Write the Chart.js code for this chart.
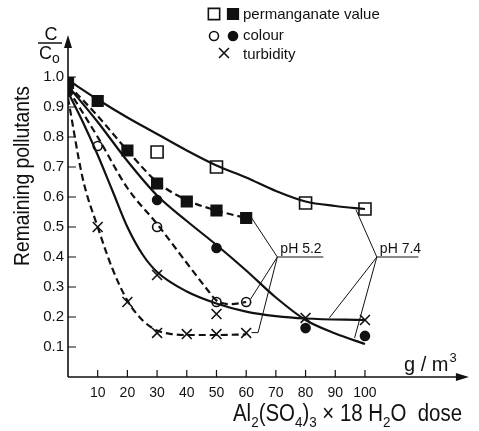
<!DOCTYPE html>
<html>
<head>
<meta charset="utf-8">
<script src="https://cdn.jsdelivr.net/npm/chart.js@4.4.1/dist/chart.umd.min.js"></script>
<style>
  html, body { margin: 0; padding: 0; background: #fff; }
</style>
</head>
<body>
<canvas id="coagChart" width="479" height="431"></canvas>
<script>
// axis ticks
const xTicks = [10, 20, 30, 40, 50, 60, 70, 80, 90, 100];
const yTicks = [0.1, 0.2, 0.3, 0.4, 0.5, 0.6, 0.7, 0.8, 0.9, 1.0];

// measured points (dose g/m3, C/Co)
const permHighX = [30, 50, 80, 100];
const permHighY = [0.75, 0.70, 0.58, 0.56];
const permLowX = [0, 10, 20, 30, 40, 50, 60];
const permLowY = [0.98, 0.92, 0.755, 0.645, 0.585, 0.555, 0.53];
const colourLowX = [10, 30, 50, 60];
const colourLowY = [0.77, 0.50, 0.25, 0.25];
const colourHighX = [0, 30, 50, 80, 100];
const colourHighY = [0.95, 0.59, 0.43, 0.163, 0.137];
const turbLowX = [10, 20, 30, 40, 50, 60];
const turbLowY = [0.50, 0.25, 0.147, 0.143, 0.143, 0.147];
const turbHighX = [30, 50, 80, 100];
const turbHighY = [0.34, 0.21, 0.197, 0.19];

// fitted curves
const permHighCurveX = [0, 10, 20, 30, 40, 50, 60, 70, 80, 90, 100];
const permHighCurveY = [0.99, 0.925, 0.865, 0.81, 0.755, 0.705, 0.665, 0.62, 0.585, 0.57, 0.56];
const permLowCurveX = [0, 10, 20, 30, 40, 50, 60];
const permLowCurveY = [0.975, 0.87, 0.755, 0.65, 0.59, 0.555, 0.53];
const colourHighCurveX = [0, 10, 20, 30, 40, 50, 60, 70, 80, 90, 100];
const colourHighCurveY = [0.97, 0.85, 0.72, 0.605, 0.52, 0.44, 0.355, 0.265, 0.19, 0.145, 0.11];
const colourLowCurveX = [0, 10, 20, 30, 40, 47, 50, 55, 60];
const colourLowCurveY = [0.96, 0.80, 0.63, 0.51, 0.38, 0.29, 0.255, 0.243, 0.25];
const turbHighCurveX = [0, 5, 10, 15, 20, 25, 30, 40, 50, 60, 70, 80, 100];
const turbHighCurveY = [0.95, 0.85, 0.74, 0.62, 0.50, 0.41, 0.35, 0.285, 0.245, 0.218, 0.203, 0.195, 0.19];
const turbLowCurveX = [0, 5, 10, 15, 20, 25, 30, 35, 40, 50, 60];
const turbLowCurveY = [0.93, 0.66, 0.50, 0.36, 0.255, 0.19, 0.155, 0.143, 0.14, 0.14, 0.142];

// pH label leader lines: node, underline end, target points (each target may carry a short tail)
const ph52Node = [70.5, 0.40];
const ph52LineEnd = 86;
const ph52Targets = [[[61.5, 0.535]], [[61.5, 0.26]], [[64, 0.148], [61.8, 0.148]]];
const ph74Node = [104, 0.40];
const ph74LineEnd = 118;
const ph74Targets = [[[97, 0.557]], [[88, 0.197]], [[96.5, 0.13]]];

const pts = (xs, ys) => xs.map((x, i) => ({ x: x, y: ys[i] }));

function leaders(node, end, targets) {
  const out = [{ x: end, y: node[1] }, { x: node[0], y: node[1] }];
  targets.forEach(path => {
    path.forEach(t => out.push({ x: t[0], y: t[1] }));
    out.push({ x: path[path.length - 1][0], y: null });
    out.push({ x: node[0], y: node[1] });
  });
  return out;
}

const ink = "#111";
const DASH = [7, 4];

function curve(data, dashed) {
  return {
    data: data,
    borderColor: ink,
    borderWidth: 2.2,
    borderDash: dashed ? DASH : [],
    pointRadius: 0,
    fill: false,
    cubicInterpolationMode: "monotone",
  };
}

function marks(data, style, r, filled) {
  return {
    data: data,
    showLine: false,
    pointStyle: style,
    pointRadius: r,
    pointBorderWidth: 1.6,
    pointBorderColor: ink,
    pointBackgroundColor: filled ? ink : "#fff",
  };
}

function thin(data) {
  return {
    data: data,
    borderColor: ink,
    borderWidth: 1,
    pointRadius: 0,
    spanGaps: false,
    tension: 0,
  };
}

const FONT = "'Liberation Sans', Arial, sans-serif";

// draw a row of text runs (sub = 1 for subscript) squeezed to a given width
function fitRuns(ctx, runs, left, base, size, width) {
  const w = runs.reduce((acc, r) => {
    ctx.font = (r[1] ? size * 0.66 : size) + "px " + FONT;
    return acc + ctx.measureText(r[0]).width;
  }, 0);
  ctx.save();
  ctx.translate(left, base);
  ctx.scale(width / w, 1);
  let cx = 0;
  runs.forEach(r => {
    ctx.font = (r[1] ? size * 0.66 : size) + "px " + FONT;
    ctx.fillText(r[0], cx, r[1] ? size * 0.25 : 0);
    cx += ctx.measureText(r[0]).width;
  });
  ctx.restore();
}

const decor = {
  id: "decor",
  beforeDatasetsDraw(chart) {
    const { ctx, chartArea: a, scales: { x, y } } = chart;
    ctx.save();
    ctx.strokeStyle = ink;
    ctx.fillStyle = ink;
    ctx.lineWidth = 1.6;
    // axes
    ctx.beginPath();
    ctx.moveTo(a.left, a.bottom);
    ctx.lineTo(a.right - 6, a.bottom);
    ctx.moveTo(a.left, a.bottom);
    ctx.lineTo(a.left, a.top + 6);
    ctx.stroke();
    ctx.beginPath();
    ctx.moveTo(a.right, a.bottom);
    ctx.lineTo(a.right - 13, a.bottom - 4);
    ctx.lineTo(a.right - 13, a.bottom + 4);
    ctx.closePath();
    ctx.moveTo(a.left, a.top);
    ctx.lineTo(a.left - 4, a.top + 13);
    ctx.lineTo(a.left + 4, a.top + 13);
    ctx.closePath();
    ctx.fill();
    // inside ticks
    ctx.lineWidth = 1.2;
    ctx.beginPath();
    xTicks.forEach(v => {
      const px = x.getPixelForValue(v);
      ctx.moveTo(px, a.bottom);
      ctx.lineTo(px, a.bottom - 7);
    });
    yTicks.forEach(v => {
      const py = y.getPixelForValue(v);
      ctx.moveTo(a.left, py);
      ctx.lineTo(a.left + 8, py);
    });
    ctx.stroke();
    ctx.restore();
  },
  afterDatasetsDraw(chart) {
    const { ctx, scales: { x, y } } = chart;
    ctx.save();
    ctx.fillStyle = ink;
    ctx.strokeStyle = ink;
    ctx.textBaseline = "alphabetic";

    // y title
    ctx.save();
    ctx.translate(29, 266);
    ctx.rotate(-Math.PI / 2);
    fitRuns(ctx, [["Remaining pollutants", 0]], 0, 0, 22, 180);
    ctx.restore();

    // C / Co
    ctx.font = "18px " + FONT;
    ctx.textAlign = "center";
    ctx.fillText("C", 51, 40);
    ctx.lineWidth = 1.5;
    ctx.beginPath();
    ctx.moveTo(38, 43);
    ctx.lineTo(62, 43);
    ctx.stroke();
    ctx.textAlign = "left";
    ctx.fillText("C", 39, 59);
    ctx.font = "14px " + FONT;
    ctx.fillText("o", 52, 63);

    // legend
    const H = Chart.helpers;
    const pt = (style, r, filled, px, py) => {
      ctx.fillStyle = filled ? ink : "#fff";
      ctx.strokeStyle = ink;
      ctx.lineWidth = 1.6;
      H.drawPoint(ctx, { pointStyle: style, radius: r, rotation: 0, borderWidth: 1.6 }, px, py);
      ctx.fillStyle = ink;
    };
    pt("rect", 8, false, 214, 14);
    pt("rect", 7.5, true, 233, 14);
    pt("circle", 4.5, false, 214, 36);
    pt("circle", 4.5, true, 233, 36);
    pt("crossRot", 7, false, 224, 53);
    ctx.font = "15px " + FONT;
    ctx.textAlign = "left";
    ctx.fillText("permanganate value", 243, 19);
    ctx.fillText("colour", 243, 40);
    ctx.fillText("turbidity", 243, 59);

    // pH labels
    ctx.font = "14px " + FONT;
    ctx.fillText("pH 5.2", x.getPixelForValue(ph52Node[0]) + 3, y.getPixelForValue(ph52Node[1]) - 4);
    ctx.fillText("pH 7.4", x.getPixelForValue(ph74Node[0]) + 3, y.getPixelForValue(ph74Node[1]) - 4);

    // unit
    ctx.font = "20px " + FONT;
    ctx.fillText("g / m", 404, 371);
    const gw = ctx.measureText("g / m").width;
    ctx.font = "13px " + FONT;
    ctx.fillText("3", 404 + gw + 1, 362);

    // x title with subscripts
    const runs = [["Al", 0], ["2", 1], ["(SO", 0], ["4", 1], [")", 0], ["3", 1], [" \u00d7 18 H", 0], ["2", 1], ["O  dose", 0]];
    fitRuns(ctx, runs, 233, 421, 23, 229);
    ctx.restore();
  },
};

new Chart(document.getElementById("coagChart"), {
  type: "line",
  data: {
    datasets: [
      curve(pts(permHighCurveX, permHighCurveY), false),
      curve(pts(permLowCurveX, permLowCurveY), true),
      curve(pts(colourHighCurveX, colourHighCurveY), false),
      curve(pts(colourLowCurveX, colourLowCurveY), true),
      curve(pts(turbHighCurveX, turbHighCurveY), false),
      curve(pts(turbLowCurveX, turbLowCurveY), true),
      thin(leaders(ph52Node, ph52LineEnd, ph52Targets)),
      thin(leaders(ph74Node, ph74LineEnd, ph74Targets)),
      marks(pts(permHighX, permHighY), "rect", 8.5, false),
      marks(pts(permLowX, permLowY), "rect", 7.5, true),
      marks(pts(colourLowX, colourLowY), "circle", 4.5, false),
      marks(pts(colourHighX, colourHighY), "circle", 4.5, true),
      marks(pts(turbLowX, turbLowY), "crossRot", 7, false),
      marks(pts(turbHighX, turbHighY), "crossRot", 7, false),
    ],
  },
  options: {
    responsive: false,
    animation: false,
    devicePixelRatio: 1,
    layout: { padding: { left: 0, right: 6, top: 35, bottom: 0 } },
    plugins: {
      legend: { display: false },
      tooltip: { enabled: false },
    },
    scales: {
      x: {
        type: "linear",
        min: 0,
        max: 135,
        afterBuildTicks: s => { s.ticks = xTicks.map(v => ({ value: v })); },
        afterFit: s => { s.height = 54; },
        grid: { display: false, drawTicks: false },
        border: { display: false },
        ticks: {
          autoSkip: false,
          maxRotation: 0,
          padding: 8,
          color: ink,
          font: { family: "'Liberation Sans', Arial, sans-serif", size: 14 },
          callback: v => String(v),
        },
      },
      y: {
        min: 0,
        max: 1.14,
        afterBuildTicks: s => { s.ticks = yTicks.map(v => ({ value: v })); },
        afterFit: s => { s.width = 68; },
        grid: { display: false, drawTicks: false },
        border: { display: false },
        ticks: {
          padding: 4,
          color: ink,
          font: { family: "'Liberation Sans', Arial, sans-serif", size: 15 },
          callback: v => v.toFixed(1),
        },
      },
    },
  },
  plugins: [decor],
});
</script>
</body>
</html>
